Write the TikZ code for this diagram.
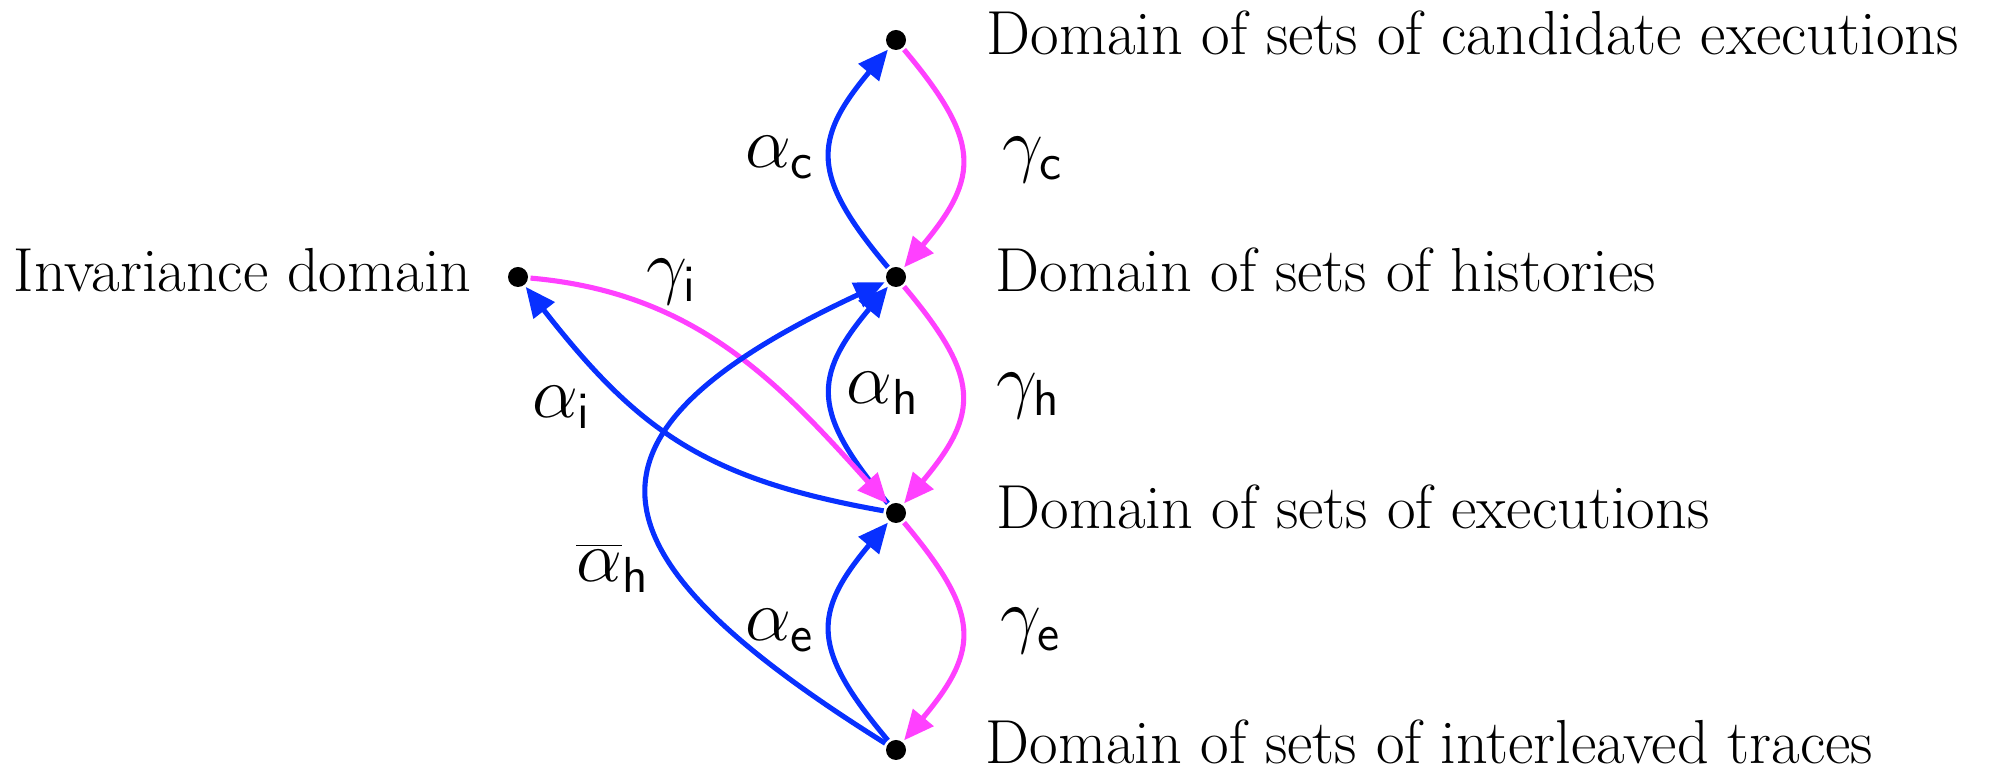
\documentclass[tikz,border=0pt]{standalone}
\usetikzlibrary{arrows.meta}
\definecolor{absblue}{RGB}{8,48,255}
\definecolor{conpink}{RGB}{255,64,255}

\begin{document}
\begin{tikzpicture}[>={Triangle[length=0.3cm,width=0.26cm]},line width=1.45pt,
 dot/.style={circle,fill,inner sep=0pt,minimum size=0.2cm},
 txt/.style={font=\fontsize{17.7}{21}\selectfont,inner sep=0pt,anchor=base west},
 lab/.style={font=\fontsize{19.5}{22}\selectfont,inner sep=0pt},
 abs/.style={draw=absblue,->},con/.style={draw=conpink,->}]
\useasboundingbox (0,0) rectangle (19.91,7.71);
\node[dot] (c) at (8.96,7.31) {};
\node[dot] (h) at (8.96,4.94) {};
\node[dot] (e) at (8.96,2.58) {};
\node[dot] (t) at (8.96,0.21) {};
\node[dot] (i) at (5.18,4.94) {};
\node[txt] (ct) at (9.84,7.16) {Domain of sets of candidate executions};
\node[txt] (ht) at (9.93,4.79) {Domain of sets of histories};
\node[txt] (et) at (9.94,2.42) {Domain of sets of executions};
\node[txt] (tt) at (9.83,0.07) {Domain of sets of interleaved traces};
\node[txt,anchor=base east] (it) at (4.74,4.79) {Invariance domain};
\draw[abs] (h) to[out=130,in=230,looseness=1.4] (c);
\draw[con] (c) to[out=-50,in=50,looseness=1.4] (h);
\draw[abs] (e) to[out=130,in=230,looseness=1.4] (h);
\draw[con] (h) to[out=-50,in=50,looseness=1.4] (e);
\draw[abs] (t) to[out=130,in=230,looseness=1.4] (e);
\draw[con] (e) to[out=-50,in=50,looseness=1.4] (t);
\draw[con] (i) to[out=-5,in=132] (e);
\draw[abs] (e) to[out=170,in=-52,looseness=1.1] (i);
\draw[abs] (t) to[out=148,in=205,looseness=2] (h);
\node[lab] (ac) at (7.80,6.14) {$\alpha_{\mathsf{c}}$};
\node[lab] (gc) at (10.33,6.11) {$\gamma_{\mathsf{c}}$};
\node[lab] (gi) at (6.72,4.89) {$\gamma_{\mathsf{i}}$};
\node[lab] (ai) at (5.62,3.64) {$\alpha_{\mathsf{i}}$};
\node[lab] (ah) at (8.83,3.78) {$\alpha_{\mathsf{h}}$};
\node[lab] (gh) at (10.29,3.75) {$\gamma_{\mathsf{h}}$};
\node[lab] (bh) at (6.13,2.03) {$\overline{\alpha}_{\mathsf{h}}$};
\node[lab] (ae) at (7.80,1.41) {$\alpha_{\mathsf{e}}$};
\node[lab] (ge) at (10.31,1.40) {$\gamma_{\mathsf{e}}$};
\end{tikzpicture}
\end{document}
